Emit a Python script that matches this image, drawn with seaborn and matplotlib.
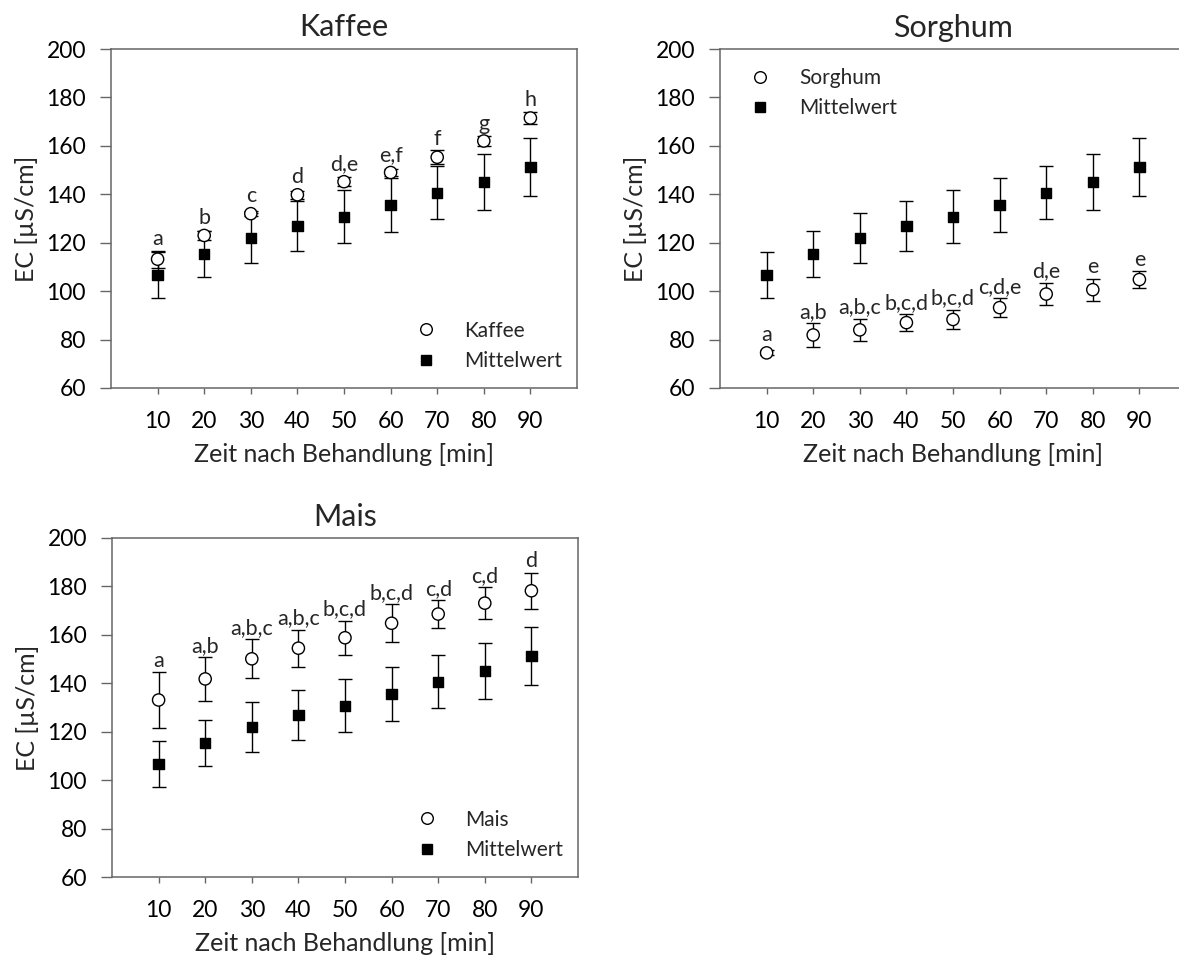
import numpy as np
import pandas as pd
import matplotlib
matplotlib.use("Agg")
import matplotlib.pyplot as plt
from matplotlib.lines import Line2D
import seaborn as sns

# ---- data -------------------------------------------------------------
zeit = [10, 20, 30, 40, 50, 60, 70, 80, 90]

mittelwert = [106.7, 115.4, 121.8, 126.9, 130.7, 135.5, 140.6, 145.1, 151.3]
mittelwert_sd = [9.4, 9.4, 10.3, 10.4, 11.0, 11.2, 11.0, 11.5, 11.9]

kaffee = [113.2, 123.0, 132.0, 139.8, 145.2, 149.0, 155.3, 162.0, 171.5]
kaffee_sd = [3.5, 1.9, 1.0, 1.6, 1.8, 1.3, 2.8, 1.9, 2.6]
kaffee_letters = ["a", "b", "c", "d", "d,e", "e,f", "f", "g", "h"]

sorghum = [74.5, 81.9, 84.0, 87.0, 88.3, 93.2, 98.8, 100.6, 104.8]
sorghum_sd = [1.0, 4.8, 4.6, 3.4, 4.1, 3.8, 4.6, 4.5, 3.4]
sorghum_letters = ["a", "a,b", "a,b,c", "b,c,d", "b,c,d", "c,d,e", "d,e", "e", "e"]

mais = [133.1, 141.8, 150.1, 154.5, 158.8, 164.8, 168.6, 173.1, 178.2]
mais_sd = [11.4, 9.0, 8.1, 7.7, 7.0, 7.8, 5.8, 6.5, 7.5]
mais_letters = ["a", "a,b", "a,b,c", "a,b,c", "b,c,d", "b,c,d", "c,d", "c,d", "d"]

y_ticks = [60, 80, 100, 120, 140, 160, 180, 200]
x_label = "Zeit nach Behandlung [min]"
y_label = "EC [µS/cm]"

# ---- style ------------------------------------------------------------
sns.set_theme(style="ticks")
plt.rcParams["font.family"] = ["Lato", "DejaVu Sans"]

SPINE = "#666666"
TICK_FS = 16.5
LABEL_FS = 18
TITLE_FS = 22
LEGEND_FS = 15
LETTER_FS = 15.5
CIRCLE_MS = 8.8
SQUARE_MS = 7.4

fig = plt.figure(figsize=(11.79, 9.63), dpi=100)

W, H = 1179, 963


def px_axes(left, top, right, bottom):
    return fig.add_axes([left / W, 1 - bottom / H, (right - left) / W, (bottom - top) / H])


ax_k = px_axes(111, 49, 577, 388)
ax_s = px_axes(720, 49, 1186, 388)
ax_m = px_axes(112, 538, 578, 877)


def panel(ax, title, name, vals, sds, letters, legend_loc, legend_anchor):
    df = pd.DataFrame({
        "Zeit": zeit * 2,
        "EC": list(vals) + list(mittelwert),
        "Reihe": [name] * len(zeit) + ["Mittelwert"] * len(zeit),
    })
    # error bars first, markers on top
    ax.errorbar(zeit, mittelwert, yerr=mittelwert_sd, fmt="none", ecolor="black",
                elinewidth=1.0, capsize=5, capthick=1.0, zorder=2)
    ax.errorbar(zeit, vals, yerr=sds, fmt="none", ecolor="black",
                elinewidth=1.0, capsize=5, capthick=1.0, zorder=2)
    sns.scatterplot(data=df, x="Zeit", y="EC", hue="Reihe", style="Reihe",
                    markers={name: "o", "Mittelwert": "s"},
                    palette={name: "white", "Mittelwert": "black"},
                    s=CIRCLE_MS ** 2, edgecolor="black", linewidth=1.0,
                    legend=False, ax=ax, zorder=3)
    # squares a little smaller than the circles
    coll = ax.collections[-1]
    sizes = np.array([CIRCLE_MS ** 2] * len(zeit) + [SQUARE_MS ** 2] * len(zeit))
    coll.set_sizes(sizes)

    ax.set_xlim(0, 100)
    ax.set_ylim(60, 200)
    ax.set_xticks(zeit)
    ax.set_yticks(y_ticks)
    ax.tick_params(axis="x", length=4, width=1, color=SPINE, pad=12.5, labelsize=TICK_FS,
                   labelcolor="black")
    ax.tick_params(axis="y", length=8, width=1, color=SPINE, pad=10, labelsize=TICK_FS,
                   labelcolor="black")
    for sp in ax.spines.values():
        sp.set_color(SPINE)
        sp.set_linewidth(1.1)
    ax.set_xlabel(x_label, fontsize=LABEL_FS, labelpad=8)
    ax.set_ylabel(y_label, fontsize=LABEL_FS, labelpad=6)
    ax.set_title(title, fontsize=TITLE_FS, pad=9)

    # significance letters above the upper cap (or the marker, if larger)
    pts_per_unit = (ax.transData.transform((0, 1))[1] - ax.transData.transform((0, 0))[1]) * 72 / fig.dpi
    for x, v, sd, lab in zip(zeit, vals, sds, letters):
        off = max(sd * pts_per_unit, CIRCLE_MS / 2) + 1.0
        ax.annotate(lab, xy=(x, v), xytext=(0, off), textcoords="offset points",
                    ha="center", va="bottom", fontsize=LETTER_FS)

    handles = [
        Line2D([], [], linestyle="none", marker="o", markersize=CIRCLE_MS * 0.95,
               markerfacecolor="white", markeredgecolor="black", markeredgewidth=1.0),
        Line2D([], [], linestyle="none", marker="s", markersize=SQUARE_MS * 0.95,
               markerfacecolor="black", markeredgecolor="black"),
    ]
    ax.legend(handles, [name, "Mittelwert"], loc=legend_loc, bbox_to_anchor=legend_anchor,
              frameon=False, fontsize=LEGEND_FS, handlelength=1.0, handletextpad=1.35,
              labelspacing=0.5, borderpad=0, borderaxespad=0)


panel(ax_k, "Kaffee", "Kaffee", kaffee, kaffee_sd, kaffee_letters,
      "lower right", (0.968, 0.05))
panel(ax_s, "Sorghum", "Sorghum", sorghum, sorghum_sd, sorghum_letters,
      "upper left", (0.064, 0.944))
panel(ax_m, "Mais", "Mais", mais, mais_sd, mais_letters,
      "lower right", (0.968, 0.05))

fig.savefig("out.png", dpi=100)
